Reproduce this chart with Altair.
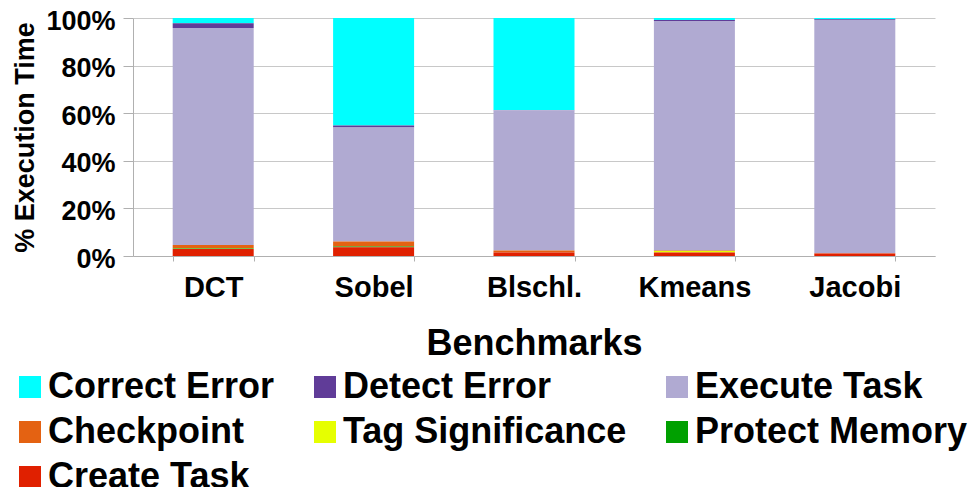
import altair as alt
import pandas as pd

benchmarks = ["DCT", "Sobel", "Blschl.", "Kmeans", "Jacobi"]
components = ["Correct Error", "Detect Error", "Execute Task", "Checkpoint",
              "Tag Significance", "Protect Memory", "Create Task"]
colors = ["#00FFFF", "#603C98", "#B0AAD2", "#E46212", "#E6FF00", "#00A000", "#E02000"]

# percent of execution time per benchmark, per component
create_task = [2.9, 3.7, 1.5, 1.5, 1.1]
protect_memory = [0.3, 0.3, 0.0, 0.0, 0.0]
tag_significance = [0.1, 0.0, 0.0, 0.55, 0.0]
checkpoint = [1.3, 2.1, 0.8, 0.3, 0.1]
execute_task = [91.2, 47.9, 58.9, 96.4, 98.0]
detect_error = [2.0, 0.8, 0.1, 0.4, 0.3]
correct_error = [2.2, 45.2, 38.7, 0.85, 0.5]

series = {
    "Correct Error": correct_error,
    "Detect Error": detect_error,
    "Execute Task": execute_task,
    "Checkpoint": checkpoint,
    "Tag Significance": tag_significance,
    "Protect Memory": protect_memory,
    "Create Task": create_task,
}

rows = []
for comp, vals in series.items():
    rank = len(components) - 1 - components.index(comp)
    for b, v in zip(benchmarks, vals):
        rows.append({"Benchmark": b, "Component": comp, "Value": v, "rank": rank})
df = pd.DataFrame(rows)

FONT = "Liberation Sans"

chart = alt.Chart(df).mark_bar().encode(
    x=alt.X("Benchmark:N", sort=benchmarks,
            scale=alt.Scale(paddingInner=0.495, paddingOuter=0.2475),
            axis=alt.Axis(title="Benchmarks", labelAngle=0, labelFontSize=29,
                          labelFont=FONT, labelFontWeight="bold", labelColor="black",
                          labelPadding=12, tickBand="extent", tickSize=5,
                          tickColor="#b0b0b0", domainColor="#b0b0b0",
                          titleFontSize=36, titleFont=FONT, titleFontWeight="bold",
                          titleColor="black", titlePadding=24, grid=False)),
    y=alt.Y("Value:Q", stack="normalize",
            scale=alt.Scale(domain=[0, 1], nice=False),
            axis=alt.Axis(title="% Execution Time", format=".0%", values=[0, 0.2, 0.4, 0.6, 0.8, 1.0],
                          labelFontSize=27, labelFont=FONT, labelFontWeight="bold",
                          labelColor="black", labelPadding=8, labelOffset=3, tickSize=10,
                          tickColor="#b0b0b0", domainColor="#b0b0b0",
                          gridColor="#c8c8c8", titleFontSize=27, titleFont=FONT,
                          titleFontWeight="bold", titleColor="black", titlePadding=6)),
    color=alt.Color("Component:N",
                    scale=alt.Scale(domain=components, range=colors),
                    legend=alt.Legend(title=None, orient="none", legendX=-121, legendY=351,
                                      direction="horizontal", padding=0,
                                      columns=3, symbolType="square", symbolSize=484,
                                      symbolStrokeWidth=0, labelFontSize=36, labelFont=FONT,
                                      labelFontWeight="bold", labelColor="black",
                                      labelLimit=600, labelOffset=0, rowPadding=9,
                                      columnPadding=32)),
    order=alt.Order("rank:Q", sort="ascending"),
).properties(
    width=802, height=238,
    autosize=alt.AutoSizeParams(type="none"),
    padding={"left": 125, "top": 10, "right": 35, "bottom": 231},
).configure_view(stroke=None)

chart.save("out.html", embed_options={"renderer": "svg", "actions": False})
